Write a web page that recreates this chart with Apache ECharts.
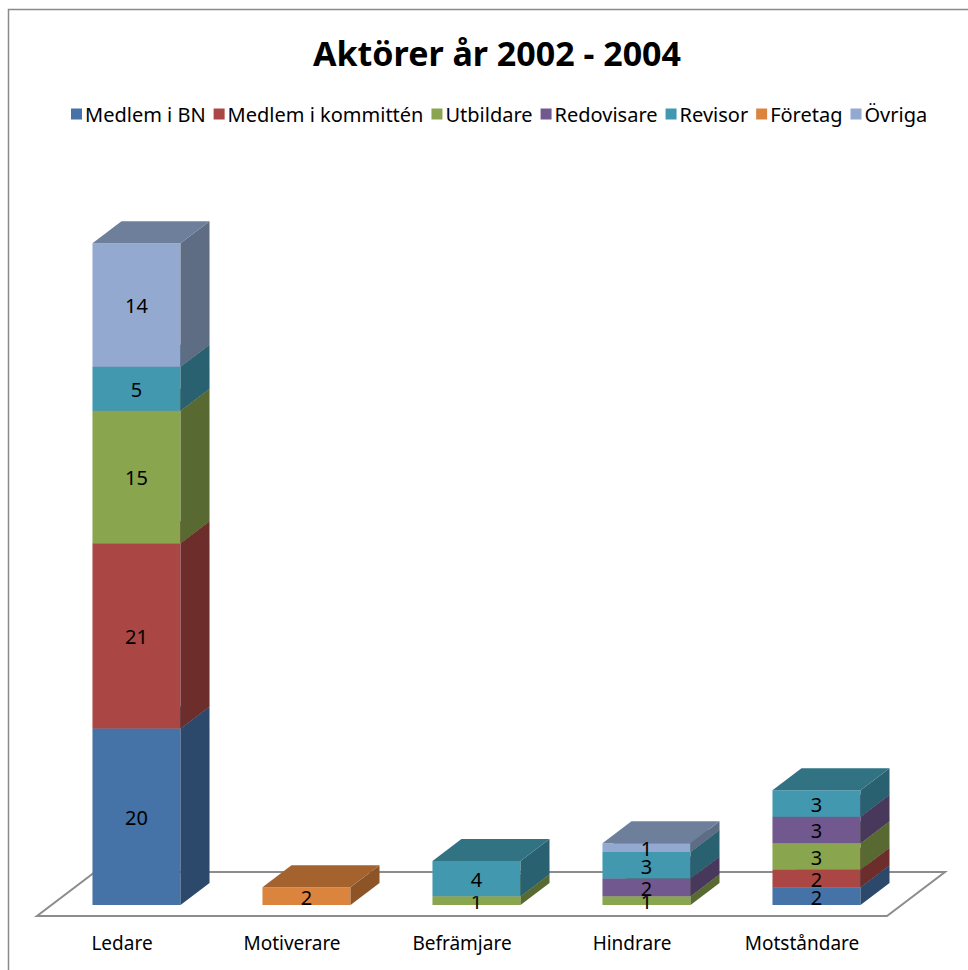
<!DOCTYPE html>
<html>
<head>
<meta charset="utf-8">
<script src="https://cdn.jsdelivr.net/npm/echarts@6/dist/echarts.min.js"></script>
<style>
html,body{margin:0;padding:0;background:#fff;}
#chart{width:968px;height:970px;}
</style>
</head>
<body>
<div id="chart"></div>
<script>
var categories = ['Ledare', 'Motiverare', 'Befrämjare', 'Hindrare', 'Motståndare'];
var seriesNames = ['Medlem i BN', 'Medlem i kommittén', 'Utbildare', 'Redovisare', 'Revisor', 'Företag', 'Övriga'];
var medlemBN      = [20, 0, 0, 0, 2];
var medlemKommitt = [21, 0, 0, 0, 2];
var utbildare     = [15, 0, 1, 1, 3];
var redovisare    = [0, 0, 0, 2, 3];
var revisor       = [5, 0, 4, 3, 3];
var foretag       = [0, 2, 0, 0, 0];
var ovriga        = [14, 0, 0, 1, 0];
var seriesValues = [medlemBN, medlemKommitt, utbildare, redovisare, revisor, foretag, ovriga];
var colors = ['#4572A7', '#AA4643', '#89A54E', '#71588F', '#4198AF', '#DB843D', '#93A9CF'];

var FONT = '"Noto Sans", "DejaVu Sans", sans-serif';
var DX = 29, DY = 22;

function shade(hex, f) {
  var r = parseInt(hex.substr(1, 2), 16), g = parseInt(hex.substr(3, 2), 16), b = parseInt(hex.substr(5, 2), 16);
  return 'rgb(' + Math.round(r * f) + ',' + Math.round(g * f) + ',' + Math.round(b * f) + ')';
}

// cumulative bases for stacking
var bases = [];
var cum = categories.map(function () { return 0; });
seriesValues.forEach(function (vals) {
  bases.push(vals.map(function (v, ci) { var b = cum[ci]; cum[ci] += v; return b; }));
});

function makeRender(color) {
  return function (params, api) {
    var cat = api.value(0), base = api.value(1), val = api.value(2);
    if (!val) return { type: 'group', children: [] };
    var p0 = api.coord([cat, base]);
    var p1 = api.coord([cat, base + val]);
    var bw = api.size([1, 0])[0] * 0.518;
    var x0 = p0[0] - bw / 2, x1 = p0[0] + bw / 2, yb = p0[1], yt = p1[1];
    return {
      type: 'group',
      children: [
        { type: 'rect', shape: { x: x0, y: yt, width: bw, height: yb - yt }, style: { fill: color } },
        { type: 'polygon', shape: { points: [[x1, yb], [x1 + DX, yb - DY], [x1 + DX, yt - DY], [x1, yt]] }, style: { fill: shade(color, 0.64) } },
        { type: 'polygon', shape: { points: [[x0, yt], [x1, yt], [x1 + DX, yt - DY], [x0 + DX, yt - DY]] }, style: { fill: shade(color, 0.75) } },
        { type: 'text', x: (x0 + x1) / 2, y: (yt + yb) / 2 + 1, style: { text: String(val), fill: '#000', fontSize: 20, fontFamily: FONT, align: 'center', verticalAlign: 'middle' } }
      ]
    };
  };
}

var series = [{
  type: 'custom',
  name: 'floor',
  silent: true,
  z: 1,
  data: [[0]],
  renderItem: function (params, api) {
    var cs = params.coordSys;
    var yBase = api.coord([0, 0])[1];
    var left = cs.x, right = cs.x + cs.width;
    return {
      type: 'polygon',
      shape: { points: [
        [left - DX / 2, yBase + DY / 2],
        [right - DX / 2, yBase + DY / 2],
        [right + 3 * DX / 2, yBase - 3 * DY / 2],
        [left + 3 * DX / 2, yBase - 3 * DY / 2]
      ] },
      style: { fill: 'none', stroke: '#8C8C8C', lineWidth: 2 }
    };
  }
}];

seriesNames.forEach(function (name, si) {
  series.push({
    type: 'custom',
    name: name,
    z: 2,
    itemStyle: { color: colors[si] },
    renderItem: makeRender(colors[si]),
    data: seriesValues[si].map(function (v, ci) { return [ci, bases[si][ci], v]; })
  });
});

var chart = echarts.init(document.getElementById('chart'), null, { renderer: 'svg' });
chart.setOption({
  animation: false,
  backgroundColor: '#fff',
  title: {
    text: 'Aktörer år 2002 - 2004',
    left: 492,
    textAlign: 'center',
    top: 31,
    textStyle: { fontFamily: FONT, fontWeight: 'bold', fontSize: 34, color: '#000' }
  },
  legend: {
    data: seriesNames,
    left: 66,
    top: 99,
    icon: 'rect',
    itemWidth: 11,
    itemHeight: 11,
    itemGap: 8,
    textStyle: { fontFamily: FONT, fontSize: 20, color: '#000', padding: [0, 0, 0, -2] }
  },
  graphic: [{
    type: 'rect',
    shape: { x: 8.5, y: 9.5, width: 1200, height: 1200 },
    style: { fill: 'none', stroke: '#8A8A8A', lineWidth: 1.5 },
    z: 100
  }],
  grid: { left: 51.5, width: 850, top: 199, height: 706 },
  xAxis: {
    type: 'category',
    data: categories,
    axisLine: { show: false },
    axisTick: { show: false },
    axisLabel: { margin: 28, fontFamily: FONT, fontSize: 19, color: '#000', padding: [0, 29, 0, 0] }
  },
  yAxis: { type: 'value', min: 0, max: 80, show: false, splitLine: { show: false } },
  series: series
});
</script>
</body>
</html>
